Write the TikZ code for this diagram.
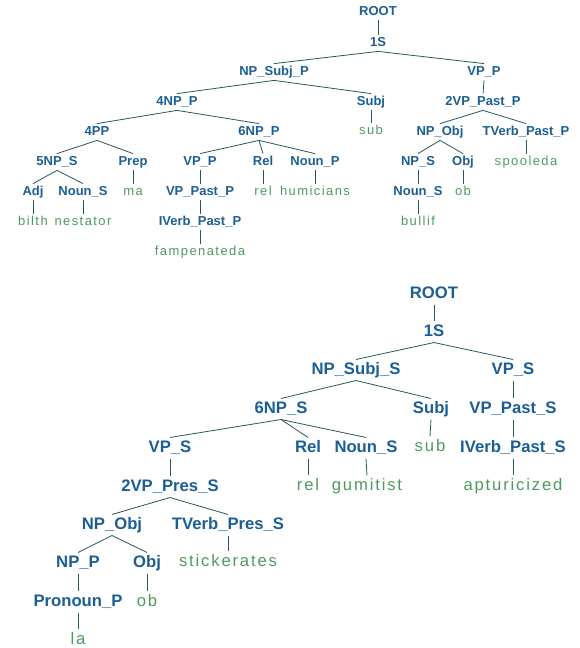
\documentclass[tikz,border=0pt]{standalone}
\usepackage{fontspec}
\setmainfont{Liberation Sans}
\newfontfamily\leaffont[LetterSpace=11]{Liberation Sans}
\definecolor{labc}{HTML}{1B5E94}
\definecolor{leafc}{HTML}{4E9A5E}
\definecolor{edgec}{HTML}{25585A}
\begin{document}
\begin{tikzpicture}[x=0.75pt,y=-0.75pt,
  cata/.style={font=\bfseries\fontsize{9.75}{11}\selectfont,text=labc,inner sep=1.5pt,text height=7.2pt,text depth=2pt},
  lfa/.style={font=\leaffont\fontsize{9.75}{11}\selectfont,text=leafc,inner sep=1.5pt,text height=7.2pt,text depth=2pt},
  catb/.style={font=\bfseries\fontsize{12.5}{14}\selectfont,text=labc,inner sep=1.8pt,text height=9.2pt,text depth=2.6pt},
  lfb/.style={font=\leaffont\fontsize{12.5}{14}\selectfont,text=leafc,inner sep=1.8pt,text height=9.2pt,text depth=2.6pt},
  br/.style={draw=edgec,line width=0.6pt}]
\useasboundingbox (0,0) rectangle (580,648);
% ---------- tree 1 ----------
\node[cata] (aroot) at (378,12) {ROOT};
\node[cata] (as) at (378,43) {1S};
\node[cata] (anpsubj) at (274,72) {NP\_Subj\_P};
\node[cata] (avp) at (484,72) {VP\_P};
\node[cata] (a4np) at (177,102) {4NP\_P};
\node[cata] (asubj) at (371,102) {Subj};
\node[cata] (a2vp) at (483,102) {2VP\_Past\_P};
\node[cata] (a4pp) at (97,132) {4PP};
\node[cata] (a6np) at (259,132) {6NP\_P};
\node[lfa] (asub) at (371,131) {sub};
\node[cata] (anpobj) at (440,132) {NP\_Obj};
\node[cata] (atverb) at (526,132) {TVerb\_Past\_P};
\node[cata] (a5np) at (57,162) {5NP\_S};
\node[cata] (aprep) at (133,162) {Prep};
\node[cata] (avp2) at (200,162) {VP\_P};
\node[cata] (arel) at (263,162) {Rel};
\node[cata] (anounp) at (315,162) {Noun\_P};
\node[cata] (anps) at (418,162) {NP\_S};
\node[cata] (aobj) at (463,162) {Obj};
\node[lfa] (aspool) at (526,162) {spooleda};
\node[cata] (aadj) at (33,192) {Adj};
\node[cata] (anouns) at (83,192) {Noun\_S};
\node[lfa] (ama) at (133,192) {ma};
\node[cata] (avppast) at (200,192) {VP\_Past\_P};
\node[lfa] (arelw) at (263,192) {rel};
\node[lfa] (ahumi) at (315,192) {humicians};
\node[cata] (anouns2) at (418,192) {Noun\_S};
\node[lfa] (aob) at (463,192) {ob};
\node[lfa] (abilth) at (33,222) {bilth};
\node[lfa] (anest) at (83,222) {nestator};
\node[cata] (aiverb) at (200,222) {IVerb\_Past\_P};
\node[lfa] (abull) at (418,222) {bullif};
\node[lfa] (afamp) at (200,252) {fampenateda};
\foreach \p/\c in {aroot/as, as/anpsubj, as/avp, anpsubj/a4np, anpsubj/asubj, avp/a2vp,
  a4np/a4pp, a4np/a6np, asubj/asub, a2vp/anpobj, a2vp/atverb, a4pp/a5np, a4pp/aprep,
  a6np/avp2, a6np/arel, a6np/anounp, anpobj/anps, anpobj/aobj, atverb/aspool,
  a5np/aadj, a5np/anouns, aprep/ama, avp2/avppast, arel/arelw, anounp/ahumi,
  anps/anouns2, aobj/aob, aadj/abilth, anouns/anest, avppast/aiverb, anouns2/abull, aiverb/afamp}
  \draw[br] (\p.south) -- (\c.north);
% ---------- tree 2 ----------
\node[catb] (broot) at (434,294) {ROOT};
\node[catb] (bs) at (434,332) {1S};
\node[catb] (bnpsubj) at (356,370) {NP\_Subj\_S};
\node[catb] (bvp) at (513,370) {VP\_S};
\node[catb] (b6np) at (281,409) {6NP\_S};
\node[catb] (bsubj) at (431,409) {Subj};
\node[catb] (bvppast) at (513,409) {VP\_Past\_S};
\node[catb] (bvps) at (170,448) {VP\_S};
\node[catb] (brel) at (308,448) {Rel};
\node[catb] (bnouns) at (366,448) {Noun\_S};
\node[lfb] (bsub) at (430,447) {sub};
\node[catb] (biverb) at (513,448) {IVerb\_Past\_S};
\node[catb] (b2vp) at (170,487) {2VP\_Pres\_S};
\node[lfb] (brelw) at (308,486) {rel};
\node[lfb] (bgumi) at (367,486) {gumitist};
\node[lfb] (bapt) at (513,486) {apturicized};
\node[catb] (bnpobj) at (112,525) {NP\_Obj};
\node[catb] (btverb) at (228,525) {TVerb\_Pres\_S};
\node[catb] (bnpp) at (78,563) {NP\_P};
\node[catb] (bobj) at (147,563) {Obj};
\node[lfb] (bstick) at (228,562) {stickerates};
\node[catb] (bpron) at (78,602) {Pronoun\_P};
\node[lfb] (bob) at (147,602) {ob};
\node[lfb] (bla) at (78,640) {la};
\foreach \p/\c in {broot/bs, bs/bnpsubj, bs/bvp, bnpsubj/b6np, bnpsubj/bsubj, bvp/bvppast,
  b6np/bvps, b6np/brel, b6np/bnouns, bsubj/bsub, bvppast/biverb, bvps/b2vp, brel/brelw,
  bnouns/bgumi, biverb/bapt, b2vp/bnpobj, b2vp/btverb, bnpobj/bnpp, bnpobj/bobj,
  btverb/bstick, bnpp/bpron, bobj/bob, bpron/bla}
  \draw[br] (\p.south) -- (\c.north);
\end{tikzpicture}
\end{document}
